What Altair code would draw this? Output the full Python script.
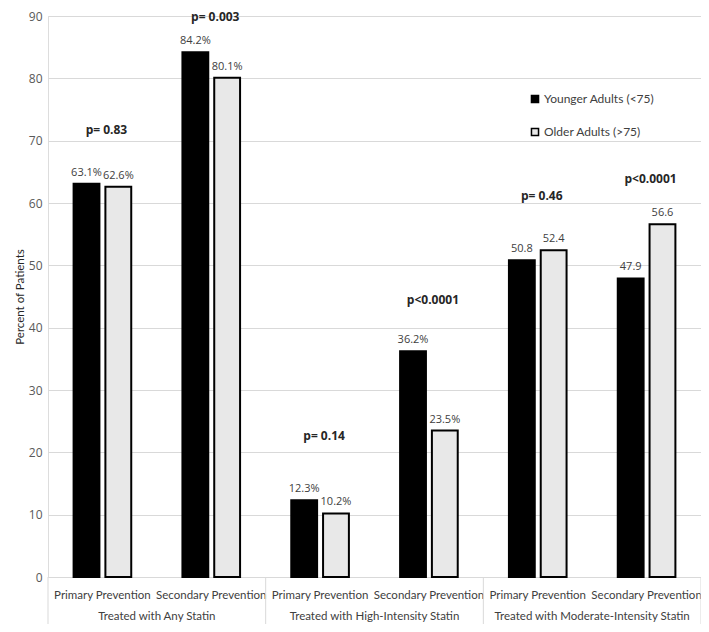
import altair as alt
import pandas as pd

groups = ["Treated with Any Statin", "Treated with High-Intensity Statin", "Treated with Moderate-Intensity Statin"]
preventions = ["Primary Prevention", "Secondary Prevention"]
series = ["Younger Adults (<75)", "Older Adults (>75)"]
younger = [63.1, 84.2, 12.3, 36.2, 50.8, 47.9]
older = [62.6, 80.1, 10.2, 23.5, 52.4, 56.6]
younger_labels = ["63.1%", "84.2%", "12.3%", "36.2%", "50.8", "47.9"]
older_labels = ["62.6%", "80.1%", "10.2%", "23.5%", "52.4", "56.6"]
pvals = ["p= 0.83", "p= 0.003", "p= 0.14", "p<0.0001", "p= 0.46", "p<0.0001"]
pval_y = [71.7, 89.9, 22.6, 44.5, 61.2, 63.9]

keys = [f"{g}|{p}" for g in groups for p in preventions]

rows = []
for i, k in enumerate(keys):
    rows.append({"key": k, "series": series[0], "value": younger[i], "label": younger_labels[i]})
    rows.append({"key": k, "series": series[1], "value": older[i], "label": older_labels[i]})
df = pd.DataFrame(rows)

ann = pd.DataFrame({"key": keys, "p": pvals, "y": pval_y})

grp = pd.DataFrame({"group": groups,
                    "prim": [f"{g}|{preventions[0]}" for g in groups],
                    "sec": [f"{g}|{preventions[1]}" for g in groups]})

W, H = 653, 561

xscale = alt.Scale(domain=keys, paddingInner=0, paddingOuter=0)
offscale = alt.Scale(domain=series, paddingInner=0.1875, paddingOuter=0.805)
yscale = alt.Scale(domain=[0, 90], nice=False)

x_axis = alt.Axis(title=None, labelExpr="split(datum.value, '|')[1]", ticks=False,
                  domainColor="#d9d9d9", labelPadding=12, labelFontSize=11.5,
                  labelColor="#404040", labelFont="Lato", labelAngle=0, grid=False)
y_axis = alt.Axis(title="Percent of Patients", values=list(range(0, 91, 10)), ticks=False,
                  domain=False, gridColor="#d9d9d9", labelFontSize=12, labelColor="#595959",
                  labelFont="Open Sans", labelPadding=6, titleFont="Lato", titleFontSize=11.5,
                  titleFontWeight="normal", titleColor="#262626", titlePadding=3)

base = alt.Chart(df)

bars = base.mark_bar(stroke="black", strokeWidth=2).encode(
    x=alt.X("key:N", scale=xscale, axis=x_axis, sort=keys),
    xOffset=alt.XOffset("series:N", scale=offscale, sort=series),
    y=alt.Y("value:Q", scale=yscale, axis=y_axis),
    fill=alt.Fill("series:N", scale=alt.Scale(domain=series, range=["#000000", "#e8e8e8"]),
                  legend=alt.Legend(title=None, orient="none", legendX=481, legendY=77,
                                    symbolType="square", symbolSize=50,
                                    symbolStrokeColor="black", symbolStrokeWidth=1.5,
                                    labelFontSize=12, labelFont="Lato",
                                    labelColor="#404040", rowPadding=19, labelOffset=3)),
)

vlabels = base.mark_text(baseline="bottom", dy=-6, fontSize=11, font="Open Sans", color="#404040").encode(
    x=alt.X("key:N", scale=xscale, sort=keys),
    xOffset=alt.XOffset("series:N", scale=offscale, sort=series),
    y=alt.Y("value:Q", scale=yscale),
    text="label:N",
)

anns = alt.Chart(ann).mark_text(fontWeight="bold", fontSize=12, font="Open Sans",
                                color="#262626", dx=4, baseline="middle").encode(
    x=alt.X("key:N", scale=xscale, sort=keys, bandPosition=0.5),
    y=alt.Y("y:Q", scale=yscale),
    text="p:N",
)

glabels = alt.Chart(grp).mark_text(fontSize=11.5, font="Lato", color="#404040", baseline="middle").encode(
    x=alt.X("sec:N", scale=xscale, sort=keys, bandPosition=0),
    y=alt.value(H + 40),
    text="group:N",
)

sep_left = alt.Chart(grp).mark_rule(color="#d9d9d9", strokeWidth=1).encode(
    x=alt.X("prim:N", scale=xscale, sort=keys, bandPosition=0),
    y=alt.value(H),
    y2=alt.value(H + 47),
)
sep_right = alt.Chart(grp).transform_filter(alt.datum.group == groups[-1]).mark_rule(
    color="#d9d9d9", strokeWidth=1).encode(
    x=alt.X("sec:N", scale=xscale, sort=keys, bandPosition=1),
    y=alt.value(H),
    y2=alt.value(H + 47),
)

chart = alt.layer(bars, vlabels, anns, glabels, sep_left, sep_right).properties(
    width=W, height=H,
    autosize=alt.AutoSizeParams(type="none"),
    padding={"left": 40, "top": 8, "right": 0, "bottom": 47},
).configure_view(strokeWidth=0).configure(background="white")

chart.save("out.html", embed_options={"renderer": "svg", "actions": False})
